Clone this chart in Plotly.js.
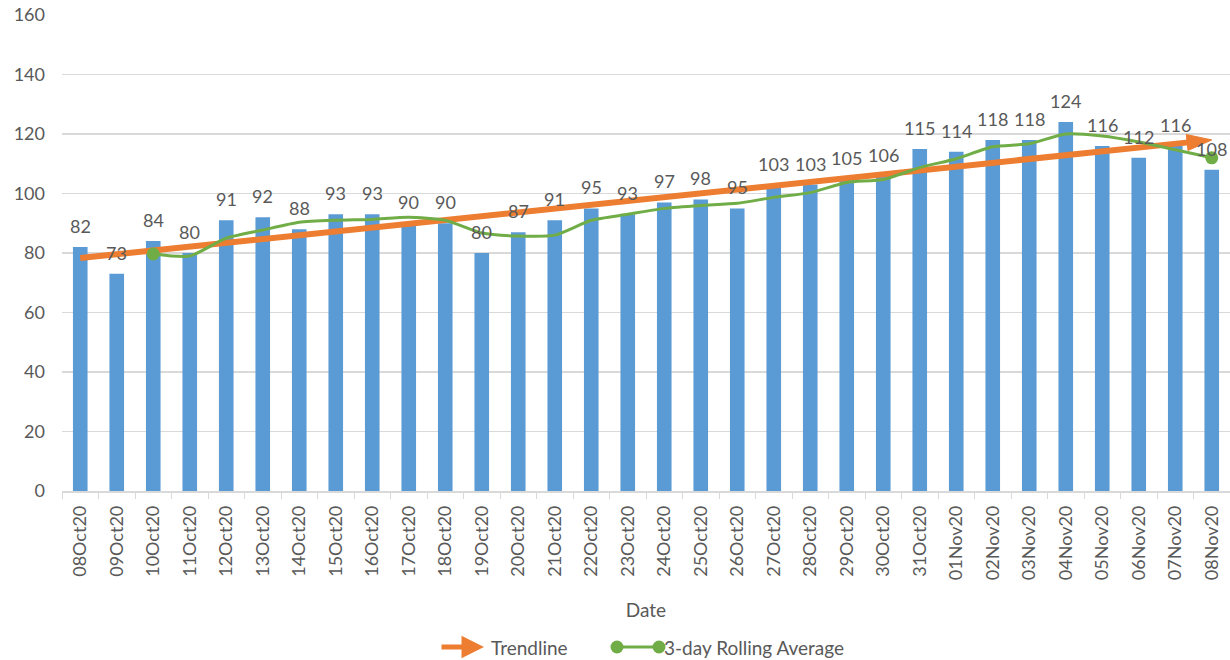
<!DOCTYPE html>
<html>
<head>
<meta charset="utf-8">
<script src="https://cdn.plot.ly/plotly-3.0.1.min.js"></script>
<style>html,body{margin:0;padding:0;background:#fff;}#chart{width:1230px;height:660px;}</style>
</head>
<body>
<div id="chart"></div>
<script>
const dates = ['08Oct20','09Oct20','10Oct20','11Oct20','12Oct20','13Oct20','14Oct20','15Oct20','16Oct20','17Oct20','18Oct20','19Oct20','20Oct20','21Oct20','22Oct20','23Oct20','24Oct20','25Oct20','26Oct20','27Oct20','28Oct20','29Oct20','30Oct20','31Oct20','01Nov20','02Nov20','03Nov20','04Nov20','05Nov20','06Nov20','07Nov20','08Nov20'];
const counts = [82,73,84,80,91,92,88,93,93,90,90,80,87,91,95,93,97,98,95,103,103,105,106,115,114,118,118,124,116,112,116,108];
const rollDates = dates.slice(2);
const rollAvg = [79.7,79.0,85.0,87.7,90.3,91.0,91.3,92.0,91.0,86.7,85.7,86.0,91.0,93.0,95.0,96.0,96.7,98.7,100.3,103.7,104.7,108.7,111.7,115.7,116.7,120.0,119.3,117.3,114.7,112.0];
const trendDates = ['08Oct20','08Nov20'];
const trendVals = [78.3,118.0];
const yTicks = [0,20,40,60,80,100,120,140,160];
const seriesNames = ['Trendline','3-day Rolling Average'];

const FONT = 'Lato, "Open Sans", sans-serif';
const GREY = '#595959';
const ORANGE = '#ED7D31';
const GREEN = '#70AD47';

// plot geometry (pixels) used to place the legend in paper coordinates
const W = 1230, H = 660, ML = 62, MR = 0, MT = 15, MB = 169;
const PW = W - ML - MR, PH = H - MT - MB;
const px = x => (x - ML) / PW;
const py = y => (H - MB - y) / PH;

const bars = {
  type:'bar', x:dates, y:counts, marker:{color:'#5B9BD5'}, width:0.4,
  showlegend:false, hoverinfo:'x+y'
};
const trend = {
  type:'scatter', mode:'lines+markers', x:trendDates, y:trendVals, name:seriesNames[0],
  line:{color:ORANGE, width:6},
  marker:{symbol:'arrow', angleref:'previous', size:[0,26], color:ORANGE, opacity:1,
          line:{color:ORANGE, width:1}},
  cliponaxis:false, showlegend:false
};
const roll = {
  type:'scatter', mode:'lines+markers', x:rollDates, y:rollAvg, name:seriesNames[1],
  line:{color:GREEN, width:3, shape:'spline', smoothing:0.6},
  marker:{color:GREEN, opacity:1, line:{color:GREEN, width:0},
          size:rollAvg.map((v,i)=> (i===0||i===rollAvg.length-1)?13:0)},
  cliponaxis:false, showlegend:false
};

const annotations = dates.map((d,i)=>({
  x:d, y:counts[i], text:String(counts[i]), showarrow:false, yshift:21,
  font:{family:FONT, size:18, color:GREY}
}));

// custom legend
const LY = 647;
annotations.push({
  xref:'paper', yref:'paper', x:px(484), y:py(LY), ax:-44, ay:0, axref:'pixel', ayref:'pixel',
  showarrow:true, arrowhead:2, arrowsize:0.9, arrowwidth:5, arrowcolor:ORANGE, text:''
});
annotations.push({
  xref:'paper', yref:'paper', x:px(489), y:py(LY), xanchor:'left', yanchor:'middle',
  showarrow:false, text:seriesNames[0], font:{family:FONT, size:19, color:GREY}
});
annotations.push({
  xref:'paper', yref:'paper', x:px(662), y:py(LY), xanchor:'left', yanchor:'middle',
  showarrow:false, text:seriesNames[1], font:{family:FONT, size:19, color:GREY}
});
const shapes = [
  {type:'line', xref:'paper', yref:'paper', x0:px(617), x1:px(659), y0:py(LY), y1:py(LY),
   line:{color:GREEN, width:3}, layer:'above'},
  ...[617,659].map(cx => ({type:'circle', xref:'paper', yref:'paper', xsizemode:'pixel', ysizemode:'pixel',
   xanchor:px(cx), yanchor:py(LY), x0:-6.5, x1:6.5, y0:-6.5, y1:6.5,
   fillcolor:GREEN, line:{color:GREEN, width:0}, layer:'above'}))
];

const layout = {
  width:W, height:H,
  margin:{l:ML, r:MR, t:MT, b:MB},
  paper_bgcolor:'#fff', plot_bgcolor:'#fff',
  font:{family:FONT, color:GREY},
  showlegend:false,
  xaxis:{
    type:'category', tickangle:-90, tickson:'boundaries', ticks:'outside', ticklen:6,
    tickcolor:'#d9d9d9', showline:true, linecolor:'#d9d9d9', linewidth:1.5, showgrid:false,
    tickfont:{family:FONT, size:18, color:GREY}, ticklabelstandoff:6, automargin:false,
    title:{text:'Date', font:{family:FONT, size:19, color:GREY}, standoff:24},
    range:[-0.5, dates.length-0.5]
  },
  yaxis:{
    range:[0,160], tickvals:yTicks, showgrid:true, gridcolor:'#d9d9d9', gridwidth:1.2,
    zeroline:false, showline:false, ticks:'', ticklabelstandoff:16, automargin:false,
    tickfont:{family:FONT, size:18, color:GREY}
  },
  annotations:annotations,
  shapes:shapes
};

Plotly.newPlot('chart', [bars, trend, roll], layout, {displayModeBar:false, staticPlot:true});
</script>
</body>
</html>
